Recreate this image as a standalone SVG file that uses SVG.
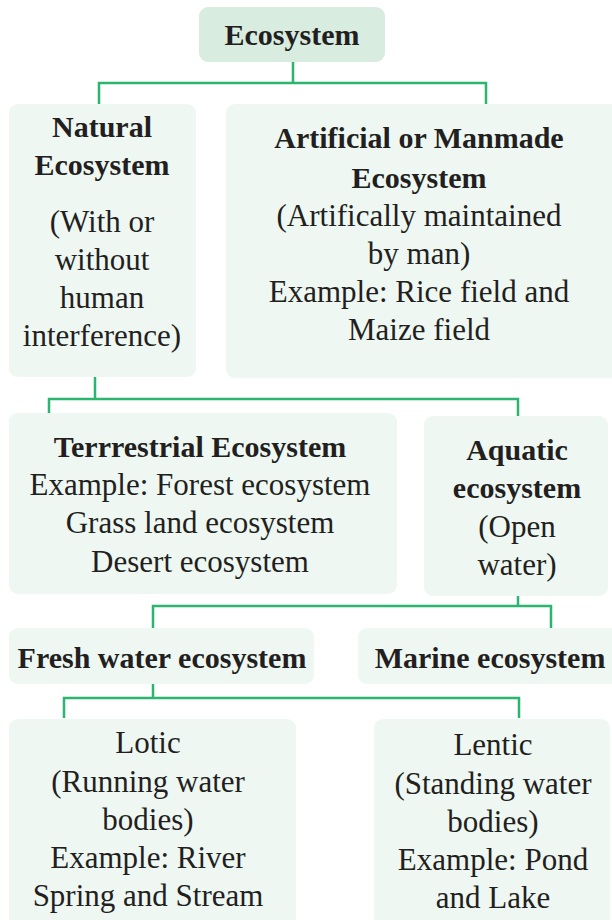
<svg xmlns="http://www.w3.org/2000/svg" width="612" height="920" viewBox="0 0 612 920">
<style>
.box{fill:#eef7f2}
.title{fill:#d8ece0}
text{font-family:"Liberation Serif","Times New Roman",serif;font-size:31px;fill:#231f20;text-anchor:middle}
.b{font-weight:bold;font-size:30px}
.con{fill:none;stroke:#2bb56e;stroke-width:2.5}
</style>
<rect width="612" height="920" fill="#ffffff"/>
<g id="connectors">
<path class="con" d="M293 62V83M99 104V83H486V104"/>
<path class="con" d="M95 377V399M49 413V399H518V416"/>
<path class="con" d="M518 596V606M153 628V606H551V628"/>
<path class="con" d="M153 684V698M64 718V698H519V718"/>
</g>
<g id="ecosystem">
<rect class="title" x="199" y="7" width="186" height="55" rx="9"/>
<text class="b" x="292" y="45">Ecosystem</text>
</g>
<g id="natural">
<rect class="box" x="9" y="104" width="187" height="273" rx="9"/>
<text class="b" x="102" y="137">Natural</text>
<text class="b" x="102" y="175">Ecosystem</text>
<text x="102" y="232">(With or</text>
<text x="102" y="270">without</text>
<text x="102" y="308">human</text>
<text x="102" y="346">interference)</text>
</g>
<g id="artificial">
<rect class="box" x="226" y="104" width="394" height="274" rx="9"/>
<text class="b" x="419" y="148">Artificial or Manmade</text>
<text class="b" x="419" y="188">Ecosystem</text>
<text x="419" y="226">(Artifically maintained</text>
<text x="419" y="264">by man)</text>
<text x="419" y="302">Example: Rice field and</text>
<text x="419" y="340">Maize field</text>
</g>
<g id="terrestrial">
<rect class="box" x="9" y="413" width="388" height="181" rx="9"/>
<text class="b" x="200" y="457">Terrrestrial Ecosystem</text>
<text x="200" y="495">Example: Forest ecosystem</text>
<text x="200" y="533">Grass land ecosystem</text>
<text x="200" y="572">Desert ecosystem</text>
</g>
<g id="aquatic">
<rect class="box" x="424" y="416" width="184" height="180" rx="9"/>
<text class="b" x="517" y="460">Aquatic</text>
<text class="b" x="517" y="498">ecosystem</text>
<text x="517" y="537">(Open</text>
<text x="517" y="575">water)</text>
</g>
<g id="freshwater">
<rect class="box" x="9" y="628" width="305" height="56" rx="9"/>
<text class="b" x="162" y="668">Fresh water ecosystem</text>
</g>
<g id="marine">
<rect class="box" x="358" y="628" width="262" height="56" rx="9"/>
<text class="b" x="490" y="668">Marine ecosystem</text>
</g>
<g id="lotic">
<rect class="box" x="9" y="719" width="287" height="211" rx="9"/>
<text x="148" y="753">Lotic</text>
<text x="148" y="792">(Running water</text>
<text x="148" y="830">bodies)</text>
<text x="148" y="868">Example: River</text>
<text x="148" y="906">Spring and Stream</text>
</g>
<g id="lentic">
<rect class="box" x="374" y="719" width="236" height="211" rx="9"/>
<text x="493" y="755">Lentic</text>
<text x="493" y="794">(Standing water</text>
<text x="493" y="832">bodies)</text>
<text x="493" y="870">Example: Pond</text>
<text x="493" y="908">and Lake</text>
</g>
</svg>
